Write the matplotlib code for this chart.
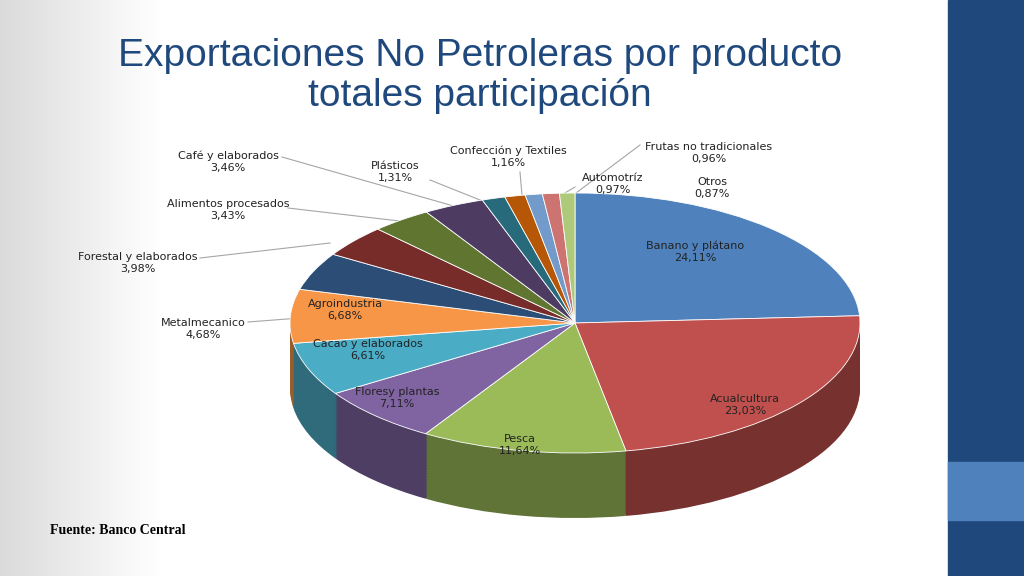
import numpy as np
import matplotlib
matplotlib.use("Agg")
import matplotlib.pyplot as plt
from matplotlib.colors import to_rgb

categories = ["Banano y plátano", "Acualcultura", "Pesca", "Floresy plantas", "Cacao y elaborados",
              "Agroindustria", "Metalmecanico", "Forestal y elaborados", "Alimentos procesados",
              "Café y elaborados", "Plásticos", "Confección y Textiles", "Automotríz",
              "Frutas no tradicionales", "Otros"]
values = [24.11, 23.03, 11.64, 7.11, 6.61, 6.68, 4.68, 3.98, 3.43, 3.46, 1.31, 1.16, 0.97, 0.96, 0.87]
colors = ["#4F81BD", "#C0504D", "#9BBB59", "#8064A2", "#4BACC6", "#F79646", "#2C4D75",
          "#772C2A", "#5F7530", "#4D3B62", "#276A7C", "#B65708", "#729ACA", "#CD7371", "#AFC97A"]

W, H = 1024, 576
fig = plt.figure(figsize=(10.24, 5.76), dpi=100)
bg = fig.add_axes([0, 0, 1, 1])
bg.set_xlim(0, W); bg.set_ylim(H, 0); bg.axis("off")
grad = np.linspace(0, 1, 200)
g = np.clip(grad * 6, 0, 1)
img = np.ones((2, 200, 3))
for c in range(3):
    img[:, :, c] = 0.86 + 0.14 * g
bg.imshow(img, extent=(0, 948, H, 0), aspect="auto", zorder=0)
bg.add_patch(plt.Rectangle((948, 0), 76, H, color="#1F497D", zorder=1))
bg.add_patch(plt.Rectangle((948, 462), 76, 58, color="#4F81BD", zorder=2))

# pie axes: top face centre (575,323), rx 285, ry 130, depth 65
x0, x1 = 290, 860
ytop, ybot = 193, 518
pax = fig.add_axes([x0 / W, 1 - ybot / H, (x1 - x0) / W, (ybot - ytop) / H])
depth = 0.5
dark = [tuple(np.array(to_rgb(c)) * 0.62) for c in colors]
for d in np.linspace(depth, 0.01, 40):
    pax.pie(values, colors=dark, startangle=90, counterclock=False, center=(0, -d),
            wedgeprops=dict(linewidth=0))
pax.pie(values, colors=colors, startangle=90, counterclock=False, center=(0, 0),
        wedgeprops=dict(linewidth=0.6, edgecolor="white"))
pax.set_aspect("auto")
pax.set_xlim(-1, 1); pax.set_ylim(-1 - depth, 1); pax.axis("off")

ov = fig.add_axes([0, 0, 1, 1])
ov.set_xlim(0, W); ov.set_ylim(H, 0); ov.axis("off"); ov.patch.set_alpha(0)

fs = 8
def lab(i, x, y):
    ov.text(x, y, f"{categories[i]}\n{values[i]:.2f}".replace(".", ",") + "%",
            ha="center", va="center", fontsize=fs, color="#222222", zorder=5, linespacing=1.2)

inside = {0: (695, 252), 1: (745, 405), 2: (520, 445), 3: (397, 398), 4: (368, 350), 5: (345, 310)}
for i, (x, y) in inside.items():
    lab(i, x, y)
outside = {6: (203, 329), 7: (138, 263), 8: (228, 210), 9: (228, 162), 10: (395, 172),
           11: (508, 157), 12: (613, 184), 13: (709, 153), 14: (712, 188)}
for i, (x, y) in outside.items():
    lab(i, x, y)
lines = [((248, 322), (300, 318)), ((200, 258), (330, 243)), ((288, 208), (425, 224)),
         ((282, 157), (478, 213)), ((430, 180), (505, 210)), ((520, 172), (523, 207)),
         ((575, 187), (543, 206)), ((640, 145), (560, 205))]
for (a, b) in lines:
    bg.plot([a[0], b[0]], [a[1], b[1]], color="#A6A6A6", lw=0.8, zorder=4)

ov.text(480, 76, "Exportaciones No Petroleras por producto\ntotales participación", ha="center",
        va="center", fontsize=28, color="#1F497D", family="Liberation Sans", linespacing=1.15, zorder=5)
ov.text(50, 530, "Fuente: Banco Central", fontsize=10, fontweight="bold", family="Liberation Serif",
        va="center", zorder=5)
fig.savefig("out.png", dpi=100)
